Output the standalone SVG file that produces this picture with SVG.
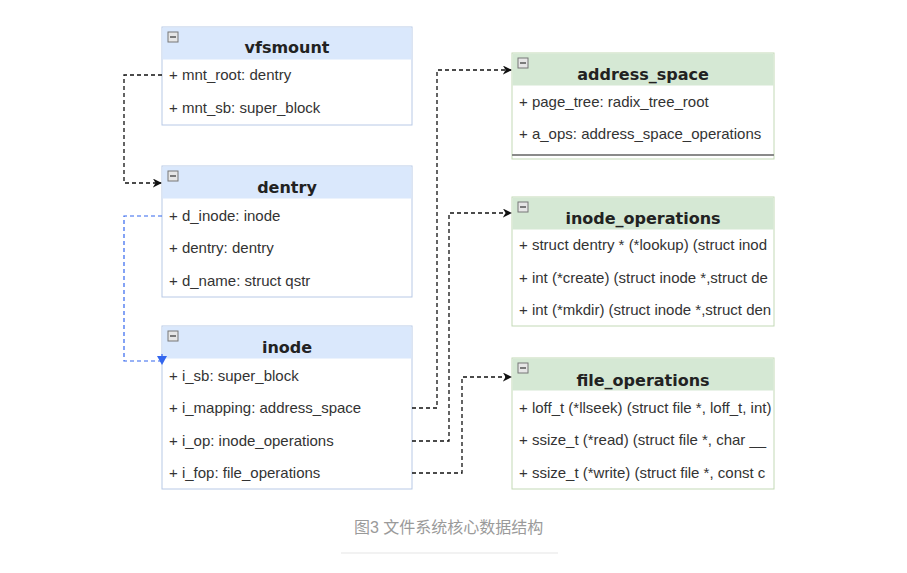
<svg xmlns="http://www.w3.org/2000/svg" width="907" height="573" viewBox="0 0 907 573">
<style>
.bg{fill:#ffffff}
.bbox{fill:#ffffff;stroke:#b8c9e6;stroke-width:1}
.bhead{fill:#dae8fc}
.gbox{fill:#ffffff;stroke:#c3d9b6;stroke-width:1}
.ghead{fill:#d5e8d4}
.title{font-family:"DejaVu Sans",Verdana,sans-serif;font-weight:bold;font-size:16px;fill:#222;text-anchor:middle}
.row{font-family:"Liberation Sans",Arial,sans-serif;font-size:15px;fill:#333}
.icon{fill:#e6e6e6;stroke:#777;stroke-width:1}
.minus{stroke:#333;stroke-width:1.2}
.edge{fill:none;stroke:#111;stroke-width:1.3;stroke-dasharray:4 3}
.edgeb{fill:none;stroke:#3366ee;stroke-width:1.2;stroke-dasharray:4 3}
.cap{font-family:"Liberation Sans","Noto Sans CJK SC",sans-serif;font-size:16px;fill:#9a9a9a}
</style>
<defs>
<marker id="arr" viewBox="0 0 10 10" refX="9" refY="5" markerWidth="9" markerHeight="9" markerUnits="userSpaceOnUse" orient="auto">
<path d="M0,0 L10,5 L0,10 L3,5 Z" fill="#111"/>
</marker>
</defs>
<rect class="bg" x="0" y="0" width="907" height="573"/>

<g id="vfsmount">
<rect class="bbox" x="162" y="27" width="250" height="98"/>
<rect class="bhead" x="162.5" y="27.5" width="249" height="32"/>
<rect class="icon" x="168" y="32" width="10" height="10"/><line class="minus" x1="170" y1="37" x2="176" y2="37"/>
<text class="title" x="287" y="53">vfsmount</text>
<text class="row" x="169" y="80">+ mnt_root: dentry</text>
<text class="row" x="169" y="113">+ mnt_sb: super_block</text>
</g>

<g id="dentry">
<rect class="bbox" x="162" y="166" width="250" height="131"/>
<rect class="bhead" x="162.5" y="166.5" width="249" height="32"/>
<rect class="icon" x="168" y="171" width="10" height="10"/><line class="minus" x1="170" y1="176" x2="176" y2="176"/>
<text class="title" x="287" y="193">dentry</text>
<text class="row" x="169" y="221">+ d_inode: inode</text>
<text class="row" x="169" y="253">+ dentry: dentry</text>
<text class="row" x="169" y="286">+ d_name: struct qstr</text>
</g>

<g id="inode">
<rect class="bbox" x="162" y="326" width="250" height="163"/>
<rect class="bhead" x="162.5" y="326.5" width="249" height="32"/>
<rect class="icon" x="168" y="331" width="10" height="10"/><line class="minus" x1="170" y1="336" x2="176" y2="336"/>
<text class="title" x="287" y="353">inode</text>
<text class="row" x="169" y="381">+ i_sb: super_block</text>
<text class="row" x="169" y="413">+ i_mapping: address_space</text>
<text class="row" x="169" y="446">+ i_op: inode_operations</text>
<text class="row" x="169" y="478">+ i_fop: file_operations</text>
</g>

<g id="address_space">
<rect class="gbox" x="512" y="53" width="262" height="106"/>
<rect class="ghead" x="512.5" y="53.5" width="261" height="32"/>
<rect class="icon" x="518" y="58" width="10" height="10"/><line class="minus" x1="520" y1="63" x2="526" y2="63"/>
<text class="title" x="643" y="80">address_space</text>
<text class="row" x="519" y="107">+ page_tree: radix_tree_root</text>
<text class="row" x="519" y="139">+ a_ops: address_space_operations</text>
<line x1="512" y1="155" x2="774" y2="155" stroke="#8a8a8a" stroke-width="2"/>
</g>

<g id="inode_operations">
<rect class="gbox" x="512" y="197" width="262" height="129"/>
<rect class="ghead" x="512.5" y="197.5" width="261" height="32"/>
<rect class="icon" x="518" y="202" width="10" height="10"/><line class="minus" x1="520" y1="207" x2="526" y2="207"/>
<text class="title" x="643" y="224">inode_operations</text>
<text class="row" x="519" y="250">+ struct dentry * (*lookup) (struct inod</text>
<text class="row" x="519" y="283">+ int (*create) (struct inode *,struct de</text>
<text class="row" x="519" y="315">+ int (*mkdir) (struct inode *,struct den</text>
</g>

<g id="file_operations">
<rect class="gbox" x="512" y="358" width="262" height="131"/>
<rect class="ghead" x="512.5" y="358.5" width="261" height="32"/>
<rect class="icon" x="518" y="363" width="10" height="10"/><line class="minus" x1="520" y1="368" x2="526" y2="368"/>
<text class="title" x="643" y="386">file_operations</text>
<text class="row" x="519" y="413">+ loff_t (*llseek) (struct file *, loff_t, int)</text>
<text class="row" x="519" y="445">+ ssize_t (*read) (struct file *, char __</text>
<text class="row" x="519" y="478">+ ssize_t (*write) (struct file *, const c</text>
</g>

<g id="connectors">
<path class="edge" d="M162,75 H124 V183 H161" marker-end="url(#arr)"/>
<path class="edgeb" d="M162,216 H124 V361 H162 V352"/>
<path d="M157,356 L167,356 L162,365 Z" fill="#3366ee"/>
<path class="edge" d="M412,408 H437 V70 H511" marker-end="url(#arr)"/>
<path class="edge" d="M412,441 H449 V213 H511" marker-end="url(#arr)"/>
<path class="edge" d="M412,473 H462 V377 H511" marker-end="url(#arr)"/>
</g>

<text class="cap" x="354" y="533">图3 文件系统核心数据结构</text>
<line x1="341" y1="553" x2="558" y2="553" stroke="#eeeeee" stroke-width="1.5"/>
</svg>
